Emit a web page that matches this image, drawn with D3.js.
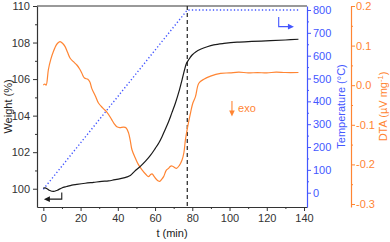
<!DOCTYPE html>
<html>
<head>
<meta charset="utf-8">
<script src="https://cdn.jsdelivr.net/npm/d3@7"></script>
<style>
  body { margin: 0; background: #fff; }
  text { font-family: "Liberation Sans", Arial, sans-serif; }
</style>
</head>
<body>
<script>
// weight curve (t in min, weight in %)
var weightTime = [0, 1, 2, 3.5, 5.4, 7.5, 9.9, 12.5, 15.3, 18, 22.5, 27, 31.4, 35, 37.7, 42, 45, 46.7, 49, 52.1,
  55, 57.5, 60.2, 62, 63.8, 65.5, 67.3, 69, 70.9, 73.1, 74.5, 76.9, 78, 79.9, 82, 84.4, 88, 91.5, 97, 104.1,
  112, 122, 130, 137];
var weightVal = [100.03, 100.05, 100.0, 99.9, 99.85, 99.92, 100.04, 100.12, 100.2, 100.24, 100.3, 100.35, 100.4,
  100.43, 100.48, 100.57, 100.65, 100.72, 100.95, 101.22, 101.52, 101.82, 102.22, 102.5, 102.86, 103.25, 103.68,
  104.15, 104.68, 105.41, 105.96, 106.87, 107.05, 107.32, 107.5, 107.63, 107.77, 107.87, 107.95, 108.02, 108.06,
  108.1, 108.14, 108.18];

// DTA curve (uV/mg)
var dtaTime = [0, 0.8, 1.5, 2.7, 4, 5.4, 7, 8.1, 9, 10.3, 11.7, 13, 14.4, 16, 18, 19.5, 20.7, 22.1, 23.9, 25, 26,
  28, 29.6, 32, 34.1, 36.5, 38, 39.5, 41, 43.1, 44.5, 45.8, 46.7, 47.6, 49.4, 51, 53, 55, 56.5, 57.5, 58.4, 59.3,
  60.2, 61.5, 62.5, 63.5, 64.6, 66, 67.3, 68.2, 69.1, 70.3, 71.5, 73, 74.5, 75.5, 76.3, 77.5, 79, 80.3, 81.7, 83.5,
  86.2, 89.8, 95.2, 100, 105, 110, 115, 120, 125, 130, 137];
var dtaVal = [0.0, 0.003, 0.0, 0.039, 0.065, 0.085, 0.102, 0.108, 0.110, 0.106, 0.0975, 0.083, 0.068, 0.060, 0.051,
  0.041, 0.030, 0.018, 0.015, 0.008, -0.008, -0.028, -0.045, -0.058, -0.068, -0.085, -0.097, -0.105, -0.107, -0.106,
  -0.108, -0.121, -0.140, -0.163, -0.184, -0.200, -0.214, -0.225, -0.231, -0.226, -0.224, -0.229, -0.235, -0.241,
  -0.243, -0.238, -0.231, -0.215, -0.210, -0.205, -0.204, -0.207, -0.210, -0.203, -0.189, -0.170, -0.138, -0.105,
  -0.071, -0.045, -0.029, 0.005, 0.015, 0.023, 0.030, 0.031, 0.033, 0.031, 0.032, 0.031, 0.033, 0.032, 0.032];

// temperature program (degC)
var tempTime = [0, 77.3, 137];
var tempVal = [15, 800, 800];

var isoTime = 77.3; // end of heating ramp

var xTicks = [0, 20, 40, 60, 80, 100, 120, 140];
var weightTicks = [100, 102, 104, 106, 108, 110];
var tempTicks = [0, 100, 200, 300, 400, 500, 600, 700, 800];
var dtaTicks = [-0.3, -0.2, -0.1, 0.0, 0.1, 0.2];

var black = "#1a1a1a", blue = "#4457ff", orange = "#ff8533";

var width = 390, height = 242;
var pL = 37, pR = 307, pT = 6, pB = 207;
var dtaAxisX = 351;

var svg = d3.select("body").append("svg")
  .attr("width", width)
  .attr("height", height);

var x = d3.scaleLinear().domain([-3.4, 141.6]).range([pL, pR]);
var yW = d3.scaleLinear().domain([99, 110]).range([pB, pT]);
var yT = d3.scaleLinear().domain([-62.6, 817.5]).range([pB, pT]);
var yD = d3.scaleLinear().domain([-0.3076, 0.2]).range([pB, pT]);

function minor(major) {
  var out = [];
  for (var i = 0; i < major.length - 1; i++) out.push((major[i] + major[i + 1]) / 2);
  return out;
}
function styleAxis(g, color) {
  g.selectAll("path").attr("stroke", color).attr("stroke-width", 1.2);
  g.selectAll("line").attr("stroke", color).attr("stroke-width", 1);
  g.selectAll("text").attr("fill", color).attr("font-size", 11);
}

// top frame line
svg.append("line")
  .attr("x1", pL).attr("x2", pR).attr("y1", pT).attr("y2", pT)
  .attr("stroke", "#777").attr("stroke-width", 1.5);

// bottom axis
var gx = svg.append("g").attr("transform", "translate(0," + pB + ")");
gx.call(d3.axisBottom(x).tickValues(xTicks).tickSize(4).tickSizeOuter(0).tickPadding(3));
gx.append("g").call(d3.axisBottom(x).tickValues(minor(xTicks)).tickSize(2).tickFormat(""))
  .select("path").remove();
styleAxis(gx, "#333");

// left axis
var gy = svg.append("g").attr("transform", "translate(" + pL + ",0)");
gy.call(d3.axisLeft(yW).tickValues(weightTicks).tickSize(4).tickSizeOuter(0).tickPadding(3));
gy.append("g").call(d3.axisLeft(yW).tickValues(minor(weightTicks)).tickSize(2).tickFormat(""))
  .select("path").remove();
styleAxis(gy, "#333");

// temperature axis
var gt = svg.append("g").attr("transform", "translate(" + pR + ",0)");
gt.call(d3.axisRight(yT).tickValues(tempTicks).tickSize(4).tickSizeOuter(0).tickPadding(2));
gt.append("g").call(d3.axisRight(yT).tickValues(minor(tempTicks)).tickSize(2).tickFormat(""))
  .select("path").remove();
styleAxis(gt, blue);

// DTA axis
var fmt = function (d) { return d3.format(".1f")(d).replace("\u2212", "-"); };
var gd = svg.append("g").attr("transform", "translate(" + dtaAxisX + ",0)");
gd.call(d3.axisRight(yD).tickValues(dtaTicks).tickSize(4).tickSizeOuter(0).tickPadding(1).tickFormat(fmt));
gd.append("g").call(d3.axisRight(yD).tickValues(minor(dtaTicks)).tickSize(2).tickFormat(""))
  .select("path").remove();
styleAxis(gd, orange);

// axis titles
svg.append("text")
  .attr("transform", "translate(12," + (pT + pB) / 2 + ") rotate(-90)")
  .attr("text-anchor", "middle").attr("font-size", 11).attr("fill", "#222")
  .text("Weight (%)");
svg.append("text")
  .attr("x", 172).attr("y", 237)
  .attr("text-anchor", "middle").attr("font-size", 11).attr("fill", "#222")
  .text("t (min)");
svg.append("text")
  .attr("transform", "translate(345," + (pT + pB) / 2 + ") rotate(-90)")
  .attr("text-anchor", "middle").attr("font-size", 11).attr("fill", blue)
  .text("Temperature (\u00B0C)");
var dl = svg.append("text")
  .attr("transform", "translate(387," + (pT + pB) / 2 + ") rotate(-90)")
  .attr("text-anchor", "middle").attr("font-size", 11).attr("fill", orange);
dl.append("tspan").text("DTA (\u00B5V mg");
dl.append("tspan").attr("font-size", 7.5).attr("dy", -4).text("-1");
dl.append("tspan").attr("dy", 4).text(")");

// isothermal start marker
svg.append("line")
  .attr("x1", x(isoTime)).attr("x2", x(isoTime)).attr("y1", pT).attr("y2", pB)
  .attr("stroke", "#222").attr("stroke-width", 1.2).attr("stroke-dasharray", "4,3");

// curves
var tempLine = d3.line().x(function (d) { return x(d[0]); }).y(function (d) { return yT(d[1]); });
svg.append("path")
  .datum(d3.zip(tempTime, tempVal))
  .attr("d", tempLine)
  .attr("fill", "none").attr("stroke", blue).attr("stroke-width", 1.4)
  .attr("stroke-dasharray", "1.3,2.2");

var dtaLine = d3.line().curve(d3.curveCatmullRom)
  .x(function (d) { return x(d[0]); }).y(function (d) { return yD(d[1]); });
svg.append("path")
  .datum(d3.zip(dtaTime, dtaVal))
  .attr("d", dtaLine)
  .attr("fill", "none").attr("stroke", orange).attr("stroke-width", 1.2);

var wLine = d3.line().curve(d3.curveCatmullRom)
  .x(function (d) { return x(d[0]); }).y(function (d) { return yW(d[1]); });
svg.append("path")
  .datum(d3.zip(weightTime, weightVal))
  .attr("d", wLine)
  .attr("fill", "none").attr("stroke", black).attr("stroke-width", 1.2);

// arrow annotations (placed in data units)
function arrowHead(px, py, dir, color) {
  // dir: "left", "right", "down"
  var p;
  if (dir === "left") p = [[px, py], [px + 6, py - 2.8], [px + 6, py + 2.8]];
  else if (dir === "right") p = [[px, py], [px - 6, py - 2.8], [px - 6, py + 2.8]];
  else p = [[px, py], [px - 2.8, py - 6], [px + 2.8, py - 6]];
  svg.append("polygon").attr("points", p.join(" ")).attr("fill", color);
}

// weight -> left axis
svg.append("polyline")
  .attr("points", [[x(9.9), yW(99.8)], [x(9.9), yW(99.43)], [x(3), yW(99.43)]].join(" "))
  .attr("fill", "none").attr("stroke", black).attr("stroke-width", 1.1);
arrowHead(x(0.3), yW(99.43), "left", black);

// temperature -> right axis
svg.append("polyline")
  .attr("points", [[x(126.4), yT(769)], [x(126.4), yT(727)], [x(132), yT(727)]].join(" "))
  .attr("fill", "none").attr("stroke", blue).attr("stroke-width", 1.1);
arrowHead(x(134.6), yT(727), "right", blue);

// exo direction
svg.append("line")
  .attr("x1", x(101.3)).attr("x2", x(101.3)).attr("y1", yD(-0.040)).attr("y2", yD(-0.068))
  .attr("stroke", orange).attr("stroke-width", 1.1);
arrowHead(x(101.3), yD(-0.079), "down", orange);
svg.append("text")
  .attr("x", x(104.6)).attr("y", yD(-0.068))
  .attr("font-size", 11).attr("fill", orange)
  .text("exo");
</script>
</body>
</html>
